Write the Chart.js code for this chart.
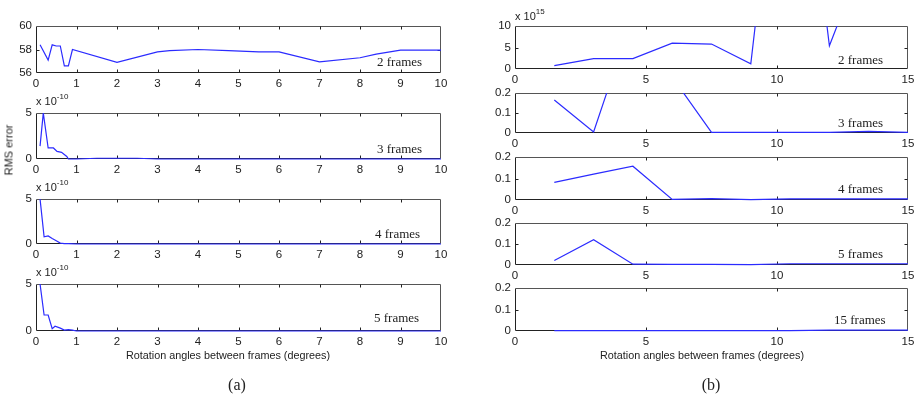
<!DOCTYPE html>
<html><head><meta charset="utf-8">
<script src="https://cdn.jsdelivr.net/npm/chart.js@4/dist/chart.umd.min.js"></script>
<style>
html,body{margin:0;padding:0;background:#fff;}
#wrap{position:relative;width:919px;height:404px;overflow:hidden;background:#fff;}
canvas{position:absolute;left:0;top:0;}
.t{position:absolute;white-space:nowrap;color:#222;transform:translateY(-50%);line-height:1;}
.sans{font-family:"Liberation Sans",Arial,sans-serif;font-size:11px;}
.serif{font-family:"Liberation Serif","Times New Roman",serif;font-size:13px;}
.sup{font-size:8px;position:relative;top:-6px;}
.c{transform:translate(-50%,-50%);}
</style></head>
<body><div id="wrap"></div>
<script>
// ---------------- data ----------------
// (a) rotation angle (degrees) and RMS error
const aX2 = [0.1,0.3,0.4,0.5,0.6,0.7,0.8,0.9,2,3,3.3,4,4.75,5.5,6,7,8,8.4,9,10];
const aY2 = [58.4,57.1,58.4,58.3,58.3,56.6,56.6,58.0,56.9,57.8,57.9,58.0,57.9,57.8,57.8,56.95,57.3,57.6,57.95,57.95];
// values in units of 1e-10
const aX3 = [0.1,0.18,0.3,0.43,0.52,0.63,0.76,0.8,1,1.5,2.5,3,4,5,6,7,8,9,10];
const aY3 = [1.4,5.0,1.2,1.2,0.83,0.72,0.28,0,0,0.08,0.08,0,0,0,0,0,0,0,0];
const aX4 = [0.1,0.2,0.3,0.4,0.5,0.6,0.7,0.8,1,2,3,4,5,6,7,8,9,10];
const aY4 = [5.0,0.8,0.9,0.6,0.35,0.1,0.05,0.05,0,0,0,0,0,0,0,0,0,0];
const aX5 = [0.1,0.2,0.3,0.4,0.47,0.6,0.7,0.8,0.9,1,2,3,4,5,6,7,8,9,10];
const aY5 = [5.0,1.7,1.7,0.25,0.5,0.3,0.1,0.15,0.1,0,0,0,0,0,0,0,0,0,0];
// (b)
const bX = [1.5,3,4.5,6,7.5,9,10.5,12,13.5,15];
const bY2 = [0.8,2.4,2.4,6.0,5.8,1.2,80,5.4,29,40];          // units of 1e15
const bY3 = [0.165,0.005,0.59,0.28,0.003,0.003,0.003,0.003,0.008,0.003];
const bY4 = [0.082,0.12,0.157,0.003,0.006,0.002,0.005,0.005,0.005,0.005];
const bY5 = [0.021,0.12,0.004,0.003,0.003,0.002,0.006,0.006,0.006,0.006];
const bY15 = [0.002,0.002,0.002,0.002,0.002,0.002,0.002,0.004,0.004,0.004];

const aLabels = ['2 frames','3 frames','4 frames','5 frames'];
const bLabels = ['2 frames','3 frames','4 frames','5 frames','15 frames'];
const xTitle = 'Rotation angles between frames (degrees)';
const yTitle = 'RMS error';

// ---------------- layout ----------------
const W = 919, H = 404, YW = 30, XH = 18;
const panels = [
  {xs:aX2, ys:aY2, rect:[36,26,441,73],  xmax:10, xstep:1, ymin:56, ymax:60, ystep:2, label:aLabels[0], lx:377, ly:61},
  {xs:aX3, ys:aY3, rect:[36,113,441,159], xmax:10, xstep:1, ymin:0, ymax:5, ystep:5, label:aLabels[1], lx:377, ly:148, exp:'-10'},
  {xs:aX4, ys:aY4, rect:[36,199,441,244], xmax:10, xstep:1, ymin:0, ymax:5, ystep:5, label:aLabels[2], lx:375, ly:233, exp:'-10'},
  {xs:aX5, ys:aY5, rect:[36,284,441,331], xmax:10, xstep:1, ymin:0, ymax:5, ystep:5, label:aLabels[3], lx:374, ly:317, exp:'-10'},
  {xs:bX, ys:bY2, rect:[515,26,908,69],   xmax:15, xstep:5, ymin:0, ymax:10, ystep:5, label:bLabels[0], lx:838, ly:59, exp:'15'},
  {xs:bX, ys:bY3, rect:[515,93,908,133],  xmax:15, xstep:5, ymin:0, ymax:0.2, ystep:0.1, label:bLabels[1], lx:838, ly:122},
  {xs:bX, ys:bY4, rect:[515,157,908,200], xmax:15, xstep:5, ymin:0, ymax:0.2, ystep:0.1, label:bLabels[2], lx:838, ly:188},
  {xs:bX, ys:bY5, rect:[515,223,908,265], xmax:15, xstep:5, ymin:0, ymax:0.2, ystep:0.1, label:bLabels[3], lx:838, ly:253},
  {xs:bX, ys:bY15, rect:[515,288,908,331], xmax:15, xstep:5, ymin:0, ymax:0.2, ystep:0.1, label:bLabels[4], lx:834, ly:319}
];

const wrap = document.getElementById('wrap');
const font = {family:'"Liberation Sans", Arial, sans-serif', size:11.5};
const tickColor = '#222';

const boxPlugin = {
  id:'box',
  beforeDatasetsDraw(c){
    const ctx = c.ctx, a = c.chartArea, sx = c.scales.x, sy = c.scales.y;
    const L = Math.round(a.left)+0.5, R = Math.round(a.right)-0.5, T = Math.round(a.top)+0.5, B = Math.round(a.bottom)-0.5;
    ctx.save();
    ctx.lineWidth = 1;
    ctx.strokeStyle = '#222';
    ctx.beginPath();
    ctx.moveTo(L,T); ctx.lineTo(L,B); ctx.lineTo(R,B);
    ctx.stroke();
    ctx.strokeStyle = '#555';
    ctx.beginPath();
    ctx.moveTo(L,T); ctx.lineTo(R,T); ctx.lineTo(R,B);
    ctx.stroke();
    ctx.strokeStyle = '#222';
    const tl = 3;
    ctx.beginPath();
    sx.ticks.forEach(t => {
      if (t.value <= sx.min || t.value >= sx.max) return;
      const px = Math.round(sx.getPixelForValue(t.value))+0.5;
      ctx.moveTo(px,B); ctx.lineTo(px,B-tl);
      ctx.moveTo(px,T); ctx.lineTo(px,T+tl);
    });
    sy.ticks.forEach(t => {
      if (t.value <= sy.min+1e-9 || t.value >= sy.max-1e-9) return;
      const py = Math.round(sy.getPixelForValue(t.value))+0.5;
      ctx.moveTo(L,py); ctx.lineTo(L+tl,py);
      ctx.moveTo(R,py); ctx.lineTo(R-tl,py);
    });
    ctx.stroke();
    ctx.restore();
  }
};

function addText(html, cls, x, y, extra){
  const d = document.createElement('div');
  d.className = 't ' + cls;
  d.innerHTML = html;
  d.style.left = x + 'px';
  d.style.top = y + 'px';
  if (extra) Object.assign(d.style, extra);
  wrap.appendChild(d);
  return d;
}

panels.forEach(p => {
  const cv = document.createElement('canvas');
  cv.width = W; cv.height = H;
  cv.style.width = W+'px'; cv.style.height = H+'px';
  wrap.appendChild(cv);
  const [l,t,r,b] = p.rect;
  const pts = p.xs.map((x,i) => ({x:x, y:p.ys[i]}));
  new Chart(cv, {
    type:'line',
    data:{datasets:[{data:pts, borderColor:'#2b2bff', borderWidth:1.2, pointRadius:0, tension:0, fill:false,
                     clip:{left:1, right:1, top:0, bottom:2}}]},
    options:{
      responsive:false, animation:false, events:[],
      layout:{autoPadding:false, padding:{left:l-YW, right:W-r, top:t, bottom:H-b-XH}},
      plugins:{legend:{display:false}, tooltip:{enabled:false}, title:{display:false}},
      scales:{
        x:{type:'linear', min:0, max:p.xmax, afterFit(s){s.height = XH;},
           grid:{display:false, drawTicks:false}, border:{display:false},
           ticks:{stepSize:p.xstep, font:font, color:tickColor, padding:4, maxRotation:0,
                  callback:v => String(+v.toFixed(2))}},
        y:{type:'linear', min:p.ymin, max:p.ymax, afterFit(s){s.width = YW;},
           grid:{display:false, drawTicks:false}, border:{display:false},
           ticks:{stepSize:p.ystep, font:font, color:tickColor, padding:4,
                  callback:v => String(+v.toFixed(2))}}
      }
    },
    plugins:[boxPlugin]
  });
  addText(p.label, 'serif', p.lx, p.ly);
  if (p.exp) {
    const yy = p.exp === '15' ? t-10 : t-12;
    addText('x 10<span class="sup">' + p.exp + '</span>', 'sans', l, yy);
  }
});

addText(xTitle, 'sans c', 228, 355, {fontSize:'10.8px'});
addText(xTitle, 'sans c', 702, 355, {fontSize:'10.8px'});
addText('(a)', 'serif c', 237, 385, {fontSize:'16px'});
addText('(b)', 'serif c', 711, 385, {fontSize:'16px'});
addText(yTitle, 'sans', 9, 150, {transform:'translate(-50%,-50%) rotate(-90deg)', fontSize:'11px'});
</script>
</body></html>
